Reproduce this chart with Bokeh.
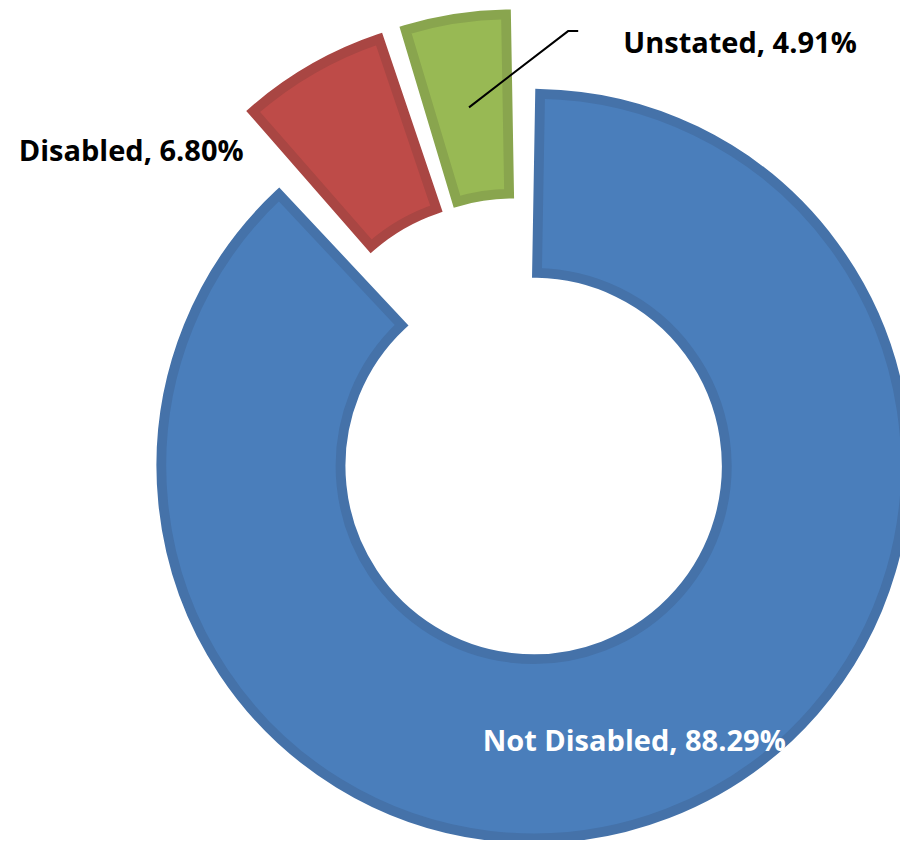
import math
from bokeh.plotting import figure
from bokeh.models import Range1d, ColumnDataSource
from bokeh.core.properties import value
from bokeh.embed import file_html
from bokeh.resources import INLINE

# ---- data ----
categories = ["Not Disabled", "Disabled", "Unstated"]
shares = [88.29, 6.80, 4.91]
label_texts = ["Not Disabled, 88.29%", "Disabled, 6.80%", "Unstated, 4.91%"]

# ---- styles ----
fill_colors = ["#4a7ebb", "#be4b48", "#98b954"]
line_colors = ["#4572a9", "#a94643", "#89a54e"]
label_colors = ["white", "black", "black"]

W, H = 900, 840
CX, CY = 518.3, 413.0     # pie centre (px units)
R_OUT, R_IN = 377.2, 188.2
EXPLODE = 41.3
BORDER = 9.8

# label anchor positions (centre x, baseline y) in px units
label_pos = [(633.7, 101), (130.7, 690.8), (739.5, 798.8)]
leader_elbow = (567.9, 809.6)
leader_end = (577.7, 809.6)

total = sum(shares)
xs, ys, starts, ends, inner, outer, mids = [], [], [], [], [], [], []
cum = 0.0
dang = (BORDER / 2) / ((R_IN + R_OUT) / 2)
for s in shares:
    a0 = 2 * math.pi * cum / total
    a1 = 2 * math.pi * (cum + s) / total
    mid = (a0 + a1) / 2
    cx = CX + EXPLODE * math.sin(mid)
    cy = CY + EXPLODE * math.cos(mid)
    xs.append(cx)
    ys.append(cy)
    starts.append(math.pi / 2 - (a0 + dang))
    ends.append(math.pi / 2 - (a1 - dang))
    inner.append(R_IN + BORDER / 2)
    outer.append(R_OUT - BORDER / 2)
    mids.append(mid)
    cum += s

src = ColumnDataSource(dict(x=xs, y=ys, start=starts, end=ends, ri=inner, ro=outer,
                            fill=fill_colors, line=line_colors, cat=categories))

p = figure(width=W, height=H, output_backend="svg", toolbar_location=None,
           x_range=Range1d(0, W), y_range=Range1d(0, H), min_border=0,
           background_fill_color="white", border_fill_color="white")
p.axis.visible = False
p.grid.visible = False
p.outline_line_color = None

p.annular_wedge(x="x", y="y", inner_radius="ri", outer_radius="ro",
                start_angle="start", end_angle="end", direction="clock",
                fill_color="fill", line_color="line", line_width=BORDER,
                line_join="miter", source=src)

# leader line for Unstated
gi = 2
rm = (R_IN + R_OUT) / 2
sx = xs[gi] + rm * math.sin(mids[gi])
sy = ys[gi] + rm * math.cos(mids[gi])
p.line([sx, leader_elbow[0], leader_end[0]], [sy, leader_elbow[1], leader_end[1]],
       line_color="black", line_width=2)

lsrc = ColumnDataSource(dict(x=[q[0] for q in label_pos], y=[q[1] for q in label_pos],
                             t=label_texts, c=label_colors))
p.text(x="x", y="y", text="t", text_color="c", text_align="center",
       text_baseline="alphabetic", text_font=value("Open Sans"), text_font_style="bold",
       text_font_size="29px", source=lsrc)

open("out.html", "w").write(file_html(p, INLINE))
